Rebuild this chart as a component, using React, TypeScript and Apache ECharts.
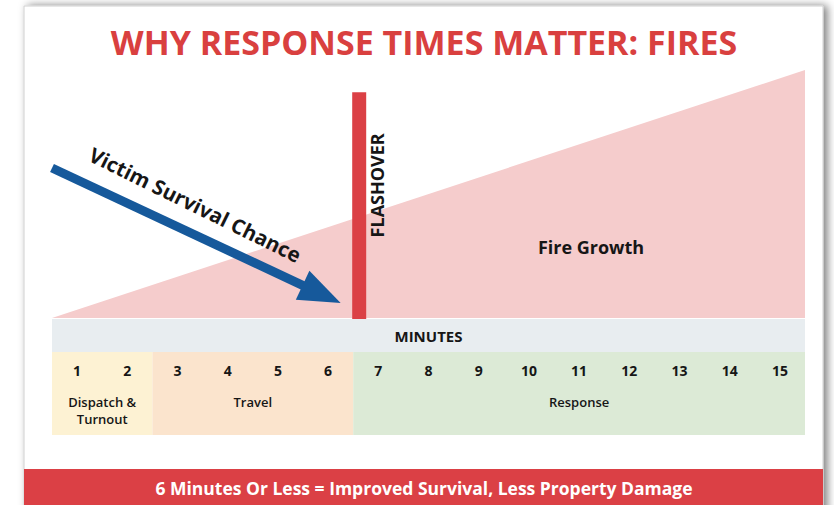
import React, { useEffect, useRef } from "react";
import * as echarts from "echarts";

// ---- data ----
const minutes = ["1", "2", "3", "4", "5", "6", "7", "8", "9", "10", "11", "12", "13", "14", "15"];
const phaseNames = ["Dispatch &\nTurnout", "Travel", "Response"];
const phaseStart = [0, 2, 6];
const phaseEnd = [2, 6, 15];
const fireGrowth = [
  [0, 0],
  [15, 100],
];
const flashoverMinute = 6;
const flashoverLevel = 91;
const survivalStart = [0, 60.5];
const survivalEnd = [5.75, 6];

const titleText = "WHY RESPONSE TIMES MATTER: FIRES";
const footerText = "6 Minutes Or Less = Improved Survival, Less Property Damage";

// ---- styles ----
const phaseColors = ["#fdf2d3", "#fbe4cd", "#dcead6"];
const RED = "#db4045";
const PINK = "#f5cccc";
const BLUE = "#16599b";
const DARK = "#161616";
const FONT = "'Open Sans', sans-serif";

export default function App() {
  const ref = useRef<HTMLDivElement>(null);

  useEffect(() => {
    if (!ref.current) return;
    const chart = echarts.init(ref.current, null, { renderer: "svg" });

    const option: any = {
      animation: false,
      backgroundColor: "#ffffff",
      graphic: [
        {
          type: "rect",
          z: -10,
          shape: { x: 24, y: 6, width: 799, height: 540 },
          style: {
            fill: "#ffffff",
            stroke: "#d0d0d0",
            lineWidth: 1,
            shadowBlur: 9,
            shadowColor: "rgba(0,0,0,0.5)",
            shadowOffsetX: 4,
          },
        },
        {
          type: "text",
          z: 2,
          x: 424,
          y: 42,
          style: {
            text: titleText,
            align: "center",
            verticalAlign: "middle",
            fill: "#d9403f",
            fontSize: 34,
            fontWeight: "bold",
            fontFamily: FONT,
          },
        },
        {
          type: "rect",
          z: 1,
          shape: { x: 52, y: 319, width: 753, height: 33 },
          style: { fill: "#e8edf0" },
        },
        {
          type: "rect",
          z: 1,
          shape: { x: 24, y: 469, width: 799, height: 40 },
          style: { fill: RED },
        },
        {
          type: "text",
          z: 2,
          x: 424,
          y: 488,
          style: {
            text: footerText,
            align: "center",
            verticalAlign: "middle",
            fill: "#ffffff",
            fontSize: 17.5,
            fontWeight: "bold",
            fontFamily: FONT,
          },
        },
        {
          type: "text",
          z: 10,
          x: 591,
          y: 247,
          style: {
            text: "Fire Growth",
            align: "center",
            verticalAlign: "middle",
            fill: DARK,
            fontSize: 18,
            fontWeight: "bold",
            fontFamily: FONT,
          },
        },
      ],
      grid: [
        { left: 52, width: 753, top: 70, height: 248 },
        { left: 52, width: 753, top: 352, height: 83 },
      ],
      xAxis: [
        { type: "value", gridIndex: 0, min: 0, max: 15, show: false },
        {
          type: "category",
          gridIndex: 1,
          data: minutes,
          position: "top",
          z: 5,
          axisLine: { show: false },
          axisTick: { show: false },
          splitLine: { show: false },
          axisLabel: {
            inside: true,
            margin: 11,
            color: DARK,
            fontSize: 14,
            fontWeight: "bold",
            fontFamily: FONT,
          },
          name: "MINUTES",
          nameLocation: "middle",
          nameGap: 9,
          nameTextStyle: {
            color: DARK,
            fontSize: 15,
            fontWeight: "bold",
            fontFamily: FONT,
          },
        },
        { type: "value", gridIndex: 1, min: 0, max: 15, show: false },
      ],
      yAxis: [
        { type: "value", gridIndex: 0, min: 0, max: 100, show: false },
        { type: "value", gridIndex: 1, min: 0, max: 1, show: false },
      ],
      series: [
        {
          type: "line",
          name: "Fire Growth",
          xAxisIndex: 0,
          yAxisIndex: 0,
          data: fireGrowth,
          showSymbol: false,
          lineStyle: { width: 0 },
          areaStyle: { color: PINK, opacity: 1 },
          z: 1,
        },
        {
          type: "custom",
          name: "Flashover",
          xAxisIndex: 0,
          yAxisIndex: 0,
          z: 3,
          data: [[flashoverMinute, flashoverLevel]],
          renderItem: (params: any, api: any) => {
            const top = api.coord([api.value(0), api.value(1)]);
            const base = api.coord([api.value(0), 0]);
            return {
              type: "group",
              children: [
                {
                  type: "rect",
                  shape: { x: top[0] - 1, y: top[1], width: 14, height: base[1] - top[1] + 1 },
                  style: { fill: RED },
                },
                {
                  type: "text",
                  x: top[0] + 24,
                  y: top[1] + 93,
                  rotation: Math.PI / 2,
                  style: {
                    text: "FLASHOVER",
                    align: "center",
                    verticalAlign: "middle",
                    fill: DARK,
                    fontSize: 18,
                    fontWeight: "bold",
                    fontFamily: FONT,
                  },
                },
              ],
            };
          },
        },
        {
          type: "custom",
          name: "Victim Survival Chance",
          xAxisIndex: 0,
          yAxisIndex: 0,
          z: 4,
          data: [[survivalStart[0], survivalStart[1], survivalEnd[0], survivalEnd[1]]],
          encode: { x: [0, 2], y: [1, 3] },
          renderItem: (params: any, api: any) => {
            const p0 = api.coord([api.value(0), api.value(1)]);
            const p1 = api.coord([api.value(2), api.value(3)]);
            const dx = p1[0] - p0[0];
            const dy = p1[1] - p0[1];
            const len = Math.hypot(dx, dy);
            const ux = dx / len;
            const uy = dy / len;
            const px = -uy;
            const py = ux;
            const headLen = 42;
            const headHalf = 16;
            const bx = p1[0] - ux * headLen;
            const by = p1[1] - uy * headLen;
            return {
              type: "group",
              children: [
                {
                  type: "line",
                  shape: { x1: p0[0], y1: p0[1], x2: bx + ux * 3, y2: by + uy * 3 },
                  style: { stroke: BLUE, lineWidth: 9 },
                },
                {
                  type: "polygon",
                  shape: {
                    points: [
                      [p1[0], p1[1]],
                      [bx + px * headHalf, by + py * headHalf],
                      [bx - px * headHalf, by - py * headHalf],
                    ],
                  },
                  style: { fill: BLUE },
                },
                {
                  type: "text",
                  x: (p0[0] + p1[0]) / 2 - 1,
                  y: (p0[1] + p1[1]) / 2 - 31,
                  rotation: -Math.atan2(dy, dx) - 0.02,
                  style: {
                    text: "Victim Survival Chance",
                    align: "center",
                    verticalAlign: "middle",
                    fill: DARK,
                    fontSize: 20.5,
                    fontWeight: "bold",
                    fontFamily: FONT,
                  },
                },
              ],
            };
          },
        },
        {
          type: "custom",
          name: "Phases",
          xAxisIndex: 2,
          yAxisIndex: 1,
          z: 2,
          data: phaseNames.map((n, i) => [phaseStart[i], phaseEnd[i], i]),
          encode: { x: [0, 1] },
          renderItem: (params: any, api: any) => {
            const i = api.value(2);
            const a = api.coord([api.value(0), 1]);
            const b = api.coord([api.value(1), 0]);
            const lines = phaseNames[i].split("\n");
            const children: any[] = [
              {
                type: "rect",
                shape: { x: a[0], y: a[1], width: b[0] - a[0], height: b[1] - a[1] },
                style: { fill: phaseColors[i] },
              },
            ];
            lines.forEach((line, k) => {
              children.push({
                type: "text",
                x: (a[0] + b[0]) / 2,
                y: a[1] + 50 + k * 17,
                style: {
                  text: line,
                  align: "center",
                  verticalAlign: "middle",
                  fill: DARK,
                  fontSize: 13,
                  fontWeight: 600,
                  fontFamily: FONT,
                },
              });
            });
            return { type: "group", children };
          },
        },
      ],
    };

    chart.setOption(option);
    return () => chart.dispose();
  }, []);

  return (
    <div
      ref={ref}
      style={{ position: "fixed", left: 0, top: 0, width: 834, height: 505 }}
    />
  );
}
